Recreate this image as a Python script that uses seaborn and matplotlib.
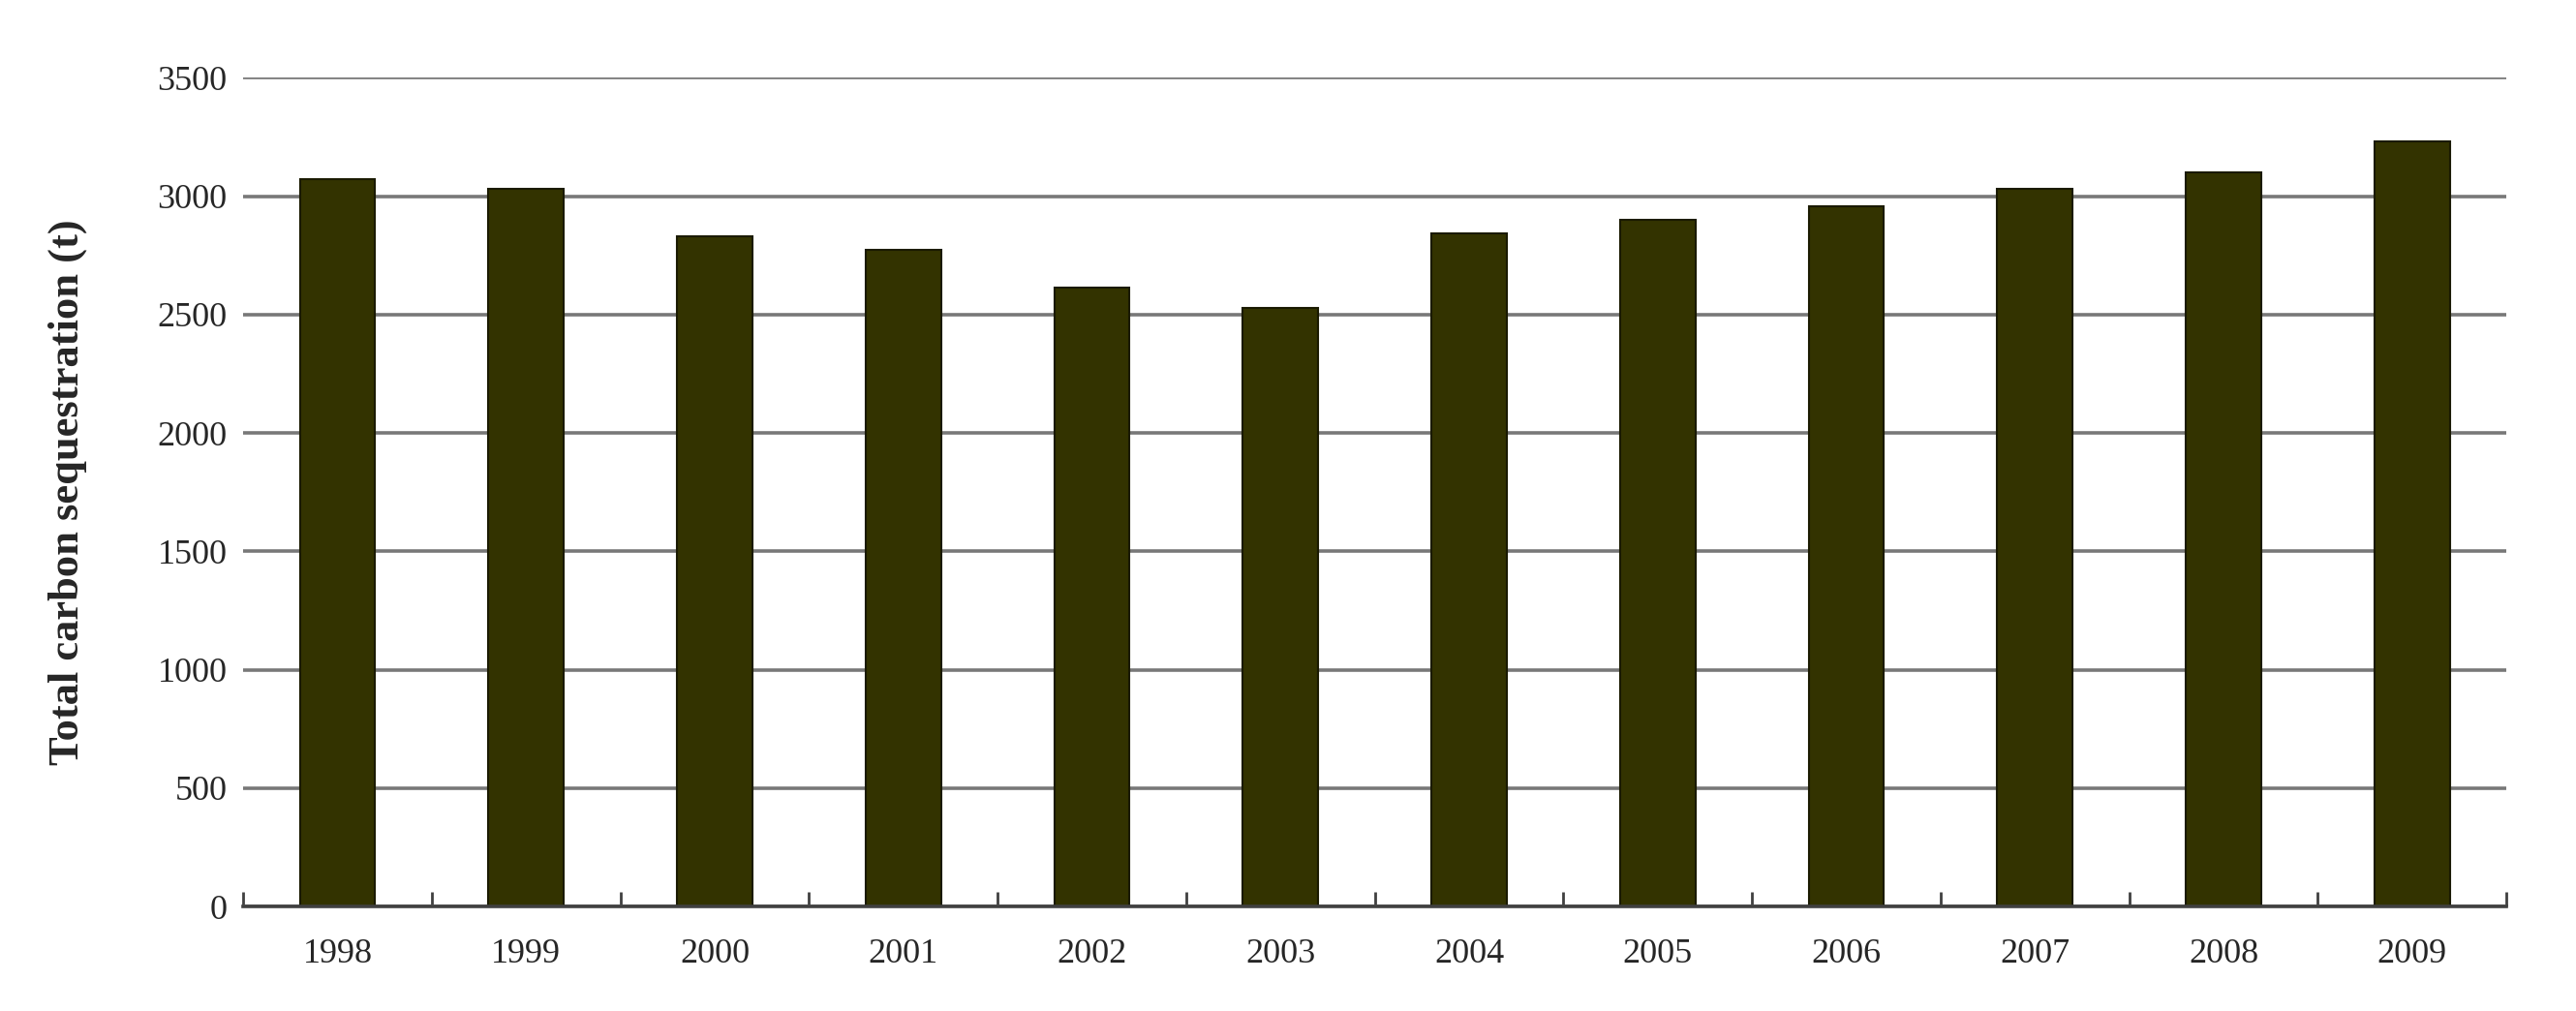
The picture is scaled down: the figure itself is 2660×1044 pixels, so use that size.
import numpy as np
import pandas as pd
import matplotlib
matplotlib.use("Agg")
import matplotlib.pyplot as plt
import seaborn as sns

# Values
years = ["1998", "1999", "2000", "2001", "2002", "2003",
         "2004", "2005", "2006", "2007", "2008", "2009"]
carbon = [3073, 3030, 2829, 2772, 2614, 2528,
          2842, 2899, 2957, 3033, 3100, 3230]

df = pd.DataFrame({"year": years, "carbon": carbon})

sns.set_style("white")
plt.rcParams["font.family"] = ["Liberation Serif", "DejaVu Serif"]

fig = plt.figure(figsize=(26.6, 10.44), dpi=100)
ax = fig.add_axes([0.0944, 0.1034, 0.8786, 0.8196])

sns.barplot(x="year", y="carbon", data=df, color="#333300", width=0.4,
            edgecolor="#1a1a00", linewidth=1.5, saturation=1, ax=ax)

ax.set_axisbelow(True)
ax.set_ylim(0, 3500)
ax.set_xlim(-0.5, len(years) - 0.5)
ax.set_yticks(np.arange(0, 3501, 500))
ax.yaxis.grid(True, color="#787878", linewidth=2.6)
ax.xaxis.grid(False)

for side in ["left", "right", "top"]:
    ax.spines[side].set_visible(False)
ax.spines["bottom"].set_color("#404040")
ax.spines["bottom"].set_linewidth(2.6)

# tick marks between categories, pointing up
ax.set_xticks(np.arange(-0.5, len(years)), minor=True)
ax.tick_params(axis="x", which="minor", bottom=True, direction="in",
               length=11, width=2, color="#404040")
ax.tick_params(axis="x", which="major", bottom=True, length=0, pad=24,
               labelsize=26)
ax.tick_params(axis="y", length=0, pad=12, labelsize=26)

ax.set_xlabel("")
ax.set_ylabel("Total carbon sequestration (t)", fontsize=32,
              fontweight="bold", labelpad=52)

fig.savefig("out.png", dpi=100)
